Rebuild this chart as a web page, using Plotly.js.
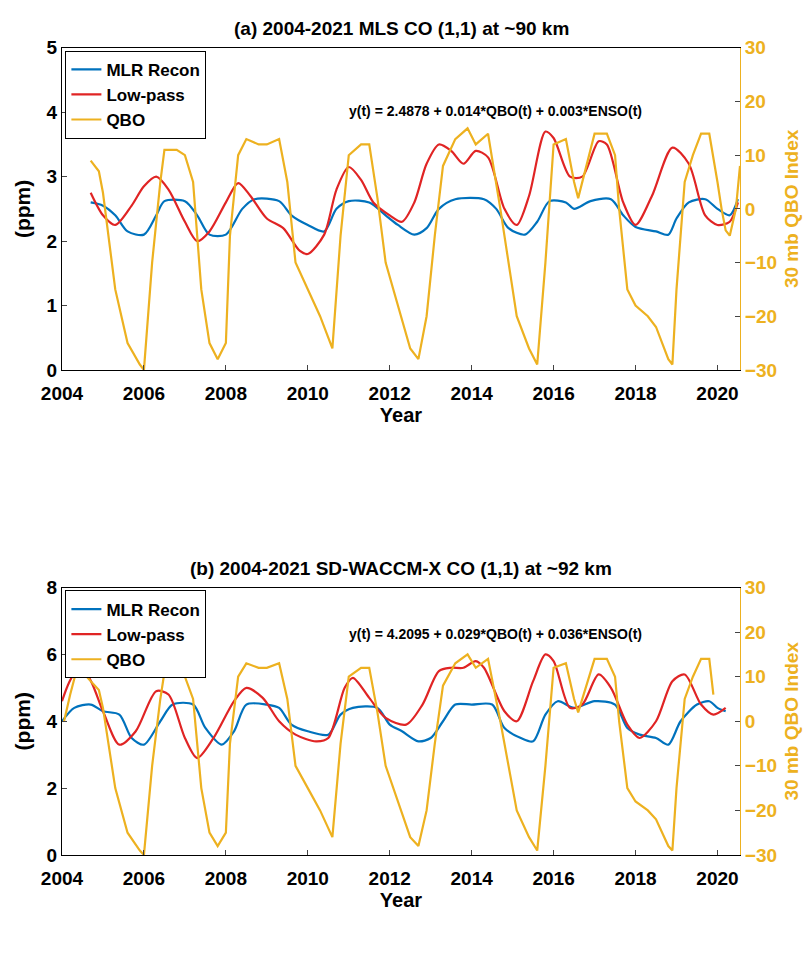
<!DOCTYPE html>
<html><head><meta charset="utf-8">
<script src="https://cdn.plot.ly/plotly-3.0.1.min.js"></script>
<style>body{margin:0}</style></head>
<body><div id="chart" style="width:812px;height:976px"></div>
<script>
// panel (a) MLS
var mlsReconX = [2004.7,2005.0,2005.3,2005.6,2006.0,2006.3,2006.5,2007.0,2007.3,2007.6,2008.0,2008.4,2008.7,2009.3,2009.6,2010.0,2010.4,2010.7,2011.0,2011.5,2011.9,2012.2,2012.6,2012.9,2013.2,2013.6,2014.3,2014.6,2014.9,2015.3,2015.6,2015.9,2016.3,2016.5,2016.9,2017.4,2017.7,2018.0,2018.5,2018.8,2019.0,2019.3,2019.7,2020.0,2020.3,2020.5];
var mlsReconY = [2.6,2.55,2.4,2.15,2.1,2.4,2.62,2.62,2.4,2.1,2.1,2.5,2.65,2.62,2.4,2.25,2.15,2.5,2.62,2.6,2.4,2.25,2.1,2.2,2.5,2.65,2.65,2.5,2.2,2.1,2.3,2.62,2.6,2.5,2.62,2.65,2.4,2.22,2.15,2.1,2.35,2.6,2.65,2.5,2.4,2.65];
var mlsLowX = [2004.7,2005.0,2005.3,2005.7,2006.0,2006.3,2006.6,2007.0,2007.3,2007.6,2008.0,2008.3,2008.6,2009.0,2009.4,2009.8,2010.0,2010.4,2010.7,2011.0,2011.3,2011.6,2012.0,2012.3,2012.6,2012.9,2013.2,2013.5,2013.8,2014.1,2014.4,2014.8,2015.1,2015.4,2015.8,2016.0,2016.4,2016.7,2017.1,2017.3,2017.7,2018.0,2018.4,2018.9,2019.3,2019.7,2020.0,2020.3,2020.5];
var mlsLowY = [2.75,2.4,2.25,2.55,2.85,3.0,2.8,2.3,2.0,2.15,2.6,2.9,2.7,2.35,2.2,1.85,1.8,2.1,2.8,3.15,2.95,2.6,2.4,2.3,2.6,3.2,3.5,3.4,3.2,3.4,3.3,2.5,2.25,2.7,3.7,3.6,3.0,3.0,3.55,3.5,2.6,2.25,2.7,3.45,3.2,2.4,2.25,2.3,2.6];
var qboX = [2004.7,2004.9,2005.0,2005.3,2005.6,2005.9,2006.0,2006.2,2006.4,2006.5,2006.8,2007.0,2007.2,2007.4,2007.6,2007.8,2008.0,2008.1,2008.3,2008.5,2008.8,2009.0,2009.3,2009.5,2009.7,2010.0,2010.3,2010.6,2010.8,2011.0,2011.3,2011.5,2011.7,2011.9,2012.2,2012.5,2012.7,2012.9,2013.1,2013.3,2013.6,2013.9,2014.1,2014.4,2014.7,2014.9,2015.1,2015.4,2015.6,2015.8,2016.0,2016.3,2016.5,2016.6,2016.8,2017.0,2017.3,2017.5,2017.6,2017.8,2018.0,2018.3,2018.5,2018.8,2018.9,2019.0,2019.2,2019.4,2019.6,2019.8,2020.0,2020.1,2020.2,2020.3,2020.45,2020.55];
var qboY = [9,7,3,-15,-25,-29,-30,-10,5,11,11,10,5,-15,-25,-28,-25,-5,10,13,12,12,13,5,-10,-15,-20,-26,-5,10,12,12,2,-10,-18,-26,-28,-20,-5,8,13,15,12,14,0,-10,-20,-26,-29,-10,12,13,5,2,8,14,14,10,0,-15,-18,-20,-22,-28,-29,-15,5,10,14,14,5,0,-4,-5,0,8];

// panel (b) SD-WACCM-X
var wxReconX = [2004.0,2004.3,2004.7,2005.0,2005.4,2005.7,2006.0,2006.4,2006.7,2007.2,2007.5,2007.9,2008.2,2008.5,2009.0,2009.3,2009.6,2010.0,2010.5,2010.8,2011.1,2011.7,2012.0,2012.3,2012.7,2013.0,2013.3,2013.6,2014.0,2014.5,2014.8,2015.2,2015.5,2015.8,2016.1,2016.5,2017.0,2017.5,2017.8,2018.1,2018.5,2018.8,2019.1,2019.5,2019.8,2020.0,2020.2];
var wxReconY = [4.0,4.4,4.5,4.3,4.2,3.5,3.3,4.0,4.5,4.5,3.8,3.3,3.7,4.5,4.5,4.4,3.9,3.7,3.6,4.2,4.4,4.4,3.9,3.7,3.4,3.5,4.0,4.5,4.5,4.5,3.8,3.5,3.4,4.2,4.6,4.4,4.6,4.5,3.8,3.6,3.5,3.3,4.0,4.5,4.6,4.4,4.3];
var wxLowX = [2004.0,2004.3,2004.6,2005.0,2005.4,2005.8,2006.3,2006.6,2007.0,2007.3,2007.7,2008.2,2008.5,2008.9,2009.3,2009.7,2010.2,2010.5,2010.9,2011.1,2011.5,2011.9,2012.4,2012.8,2013.2,2013.5,2013.8,2014.1,2014.3,2014.8,2015.1,2015.5,2015.8,2016.0,2016.4,2016.7,2017.1,2017.4,2017.8,2018.1,2018.5,2018.9,2019.2,2019.6,2019.9,2020.2];
var wxLowY = [4.6,5.4,5.4,4.3,3.3,3.7,4.9,4.8,3.5,2.9,3.5,4.6,5.0,4.7,4.0,3.6,3.4,3.5,5.0,5.3,4.7,4.1,3.9,4.5,5.5,5.6,5.6,5.8,5.6,4.3,4.0,5.2,6.0,5.8,4.4,4.5,5.4,5.0,3.9,3.5,4.0,5.2,5.4,4.5,4.2,4.4];
var qbo2X = [2004.05,2004.2,2004.4,2004.6].concat(qboX.slice(1, 70)).concat([2019.9]);
var qbo2Y = [0,6,13,10].concat(qboY.slice(1, 70)).concat([6]);

var blue = '#0072BD', red = '#E02424', gold = '#EDB120';
var F = {family: 'Liberation Sans, Arial', color: '#000'};

function tr(x, y, name, color, xa, ya, leg, smooth) {
  return {x: x, y: y, name: name, xaxis: xa, yaxis: ya, mode: 'lines', legend: leg,
    line: {color: color, width: 2.2, shape: smooth ? 'spline' : 'linear', smoothing: 0.8}};
}
var data = [
  tr(mlsReconX, mlsReconY, 'MLR Recon', blue, 'x', 'y', 'legend', true),
  tr(mlsLowX, mlsLowY, 'Low-pass', red, 'x', 'y', 'legend', true),
  tr(qboX, qboY, 'QBO', gold, 'x', 'y2', 'legend', false),
  tr(wxReconX, wxReconY, 'MLR Recon', blue, 'x2', 'y3', 'legend2', true),
  tr(wxLowX, wxLowY, 'Low-pass', red, 'x2', 'y3', 'legend2', true),
  tr(qbo2X, qbo2Y, 'QBO', gold, 'x2', 'y4', 'legend2', false)
];

function xax(anchor) {
  return {domain: [0, 1], anchor: anchor, range: [2004, 2020.55], tickvals: [2004,2006,2008,2010,2012,2014,2016,2018,2020],
    showgrid: false, zeroline: false, showline: true, linecolor: '#000', linewidth: 1, mirror: true,
    ticks: 'inside', ticklen: 5, ticklabelstandoff: 6, tickfont: {size: 19, family: F.family, color: '#000', weight: 'bold'},
    title: {text: '<b>Year</b>', font: {size: 20}, standoff: 2}};
}
function yl(dom, range, dt) {
  return {domain: dom, range: range, dtick: dt, showgrid: false, zeroline: false, showline: true, linecolor: '#000',
    ticks: 'inside', ticklen: 5, tickfont: {size: 19, family: F.family, color: '#000', weight: 'bold'},
    title: {text: '<b>(ppm)</b>', font: {size: 21}, standoff: 10}};
}
function yr(over, anchor) {
  return {overlaying: over, anchor: anchor, side: 'right', range: [-30, 30], dtick: 10, showgrid: false, zeroline: false,
    showline: true, linecolor: gold, ticks: 'inside', ticklen: 5,
    tickfont: {size: 19, family: F.family, color: gold, weight: 'bold'},
    title: {text: '<b>30 mb QBO Index</b>', font: {size: 19, color: gold}, standoff: 8}};
}
var legStyle = {bgcolor: '#fff', bordercolor: '#000', borderwidth: 1, font: {size: 17, family: F.family, color: '#000', weight: 'bold'},
  xanchor: 'left', yanchor: 'top', tracegroupgap: 0, itemwidth: 30};
var layout = {
  width: 812, height: 976, margin: {l: 62, r: 72, t: 0, b: 0}, showlegend: true,
  paper_bgcolor: '#fff', plot_bgcolor: '#fff', font: F,
  xaxis: xax('y'), yaxis: yl([0.621, 0.951], [0, 5], 1), yaxis2: yr('y', 'x'),
  xaxis2: xax('y3'), yaxis3: yl([0.124, 0.398], [0, 8], 2), yaxis4: yr('y3', 'x2'),
  legend: Object.assign({x: 0.005, y: 0.948}, legStyle),
  legend2: Object.assign({x: 0.005, y: 0.395}, legStyle),
  annotations: [
    {text: '<b>(a) 2004-2021 MLS CO (1,1) at ~90 km</b>', xref: 'paper', yref: 'paper', x: 0.5, y: 0.958, yanchor: 'bottom', showarrow: false, font: {size: 19}},
    {text: '<b>(b) 2004-2021 SD-WACCM-X CO (1,1) at ~92 km</b>', xref: 'paper', yref: 'paper', x: 0.5, y: 0.405, yanchor: 'bottom', showarrow: false, font: {size: 19}},
    {text: '<b>y(t) = 2.4878 + 0.014*QBO(t) + 0.003*ENSO(t)</b>', xref: 'paper', yref: 'paper', x: 0.64, y: 0.897, showarrow: false, font: {size: 14}},
    {text: '<b>y(t) = 4.2095 + 0.029*QBO(t) + 0.036*ENSO(t)</b>', xref: 'paper', yref: 'paper', x: 0.64, y: 0.35, showarrow: false, font: {size: 14}}
  ]
};
Plotly.newPlot('chart', data, layout, {staticPlot: true});
</script></body></html>
